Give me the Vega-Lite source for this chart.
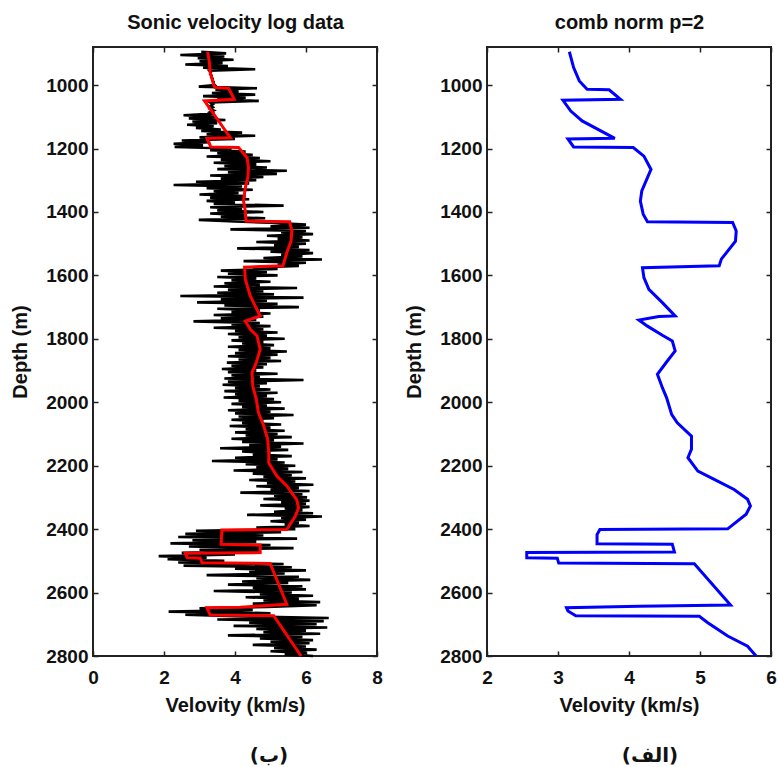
{
  "$schema": "https://vega.github.io/schema/vega-lite/v6.json",
  "background": "white",
  "padding": {"left": 9, "top": 11, "right": 3, "bottom": 3},
  "spacing": 19,
  "config": {
    "font": "Liberation Sans",
    "view": {"stroke": "#222222", "strokeWidth": 2},
    "axis": {
      "grid": false, "domain": false,
      "tickSize": -5, "tickWidth": 1.5, "tickColor": "#222222",
      "labelFont": "Liberation Sans", "labelFontSize": 19, "labelFontWeight": "bold", "labelColor": "#111111",
      "labelFlush": false, "labelOverlap": false,
      "titleFont": "Liberation Sans", "titleFontSize": 20, "titleFontWeight": "bold", "titleColor": "#111111"
    },
    "axisX": {"labelPadding": 17, "titlePadding": 8},
    "axisY": {"labelPadding": 10, "titlePadding": 15}
  },
  "datasets": {
    "log": [
      {"d":895,"v":3.05},{"d":900,"v":3.75},{"d":905,"v":2.46},{"d":910,"v":3.7},{"d":915,"v":2.95},{"d":920,"v":3.96},{"d":925,"v":3.0},{"d":930,"v":3.65},{"d":935,"v":2.6},{"d":940,"v":3.8},{"d":945,"v":3.1},{"d":950,"v":4.57},
      {"d":955,"v":3.28},{"d":960,"v":3.32},{"d":965,"v":3.3},{"d":970,"v":3.34},{"d":975,"v":3.33},{"d":980,"v":3.37},{"d":985,"v":3.36},{"d":990,"v":3.4},{"d":995,"v":3.39},{"d":1000,"v":3.43},
      {"d":1005,"v":2.98},{"d":1010,"v":4.62},{"d":1015,"v":3.45},{"d":1020,"v":4.1},{"d":1025,"v":3.35},{"d":1030,"v":4.57},{"d":1035,"v":3.1},{"d":1040,"v":4.3},{"d":1045,"v":3.5},{"d":1050,"v":4.67},
      {"d":1055,"v":3.3},{"d":1060,"v":3.38},{"d":1065,"v":3.32},{"d":1070,"v":3.38},{"d":1075,"v":3.3},{"d":1080,"v":3.4},{"d":1085,"v":3.3},{"d":1090,"v":3.42},
      {"d":1095,"v":2.55},{"d":1100,"v":3.45},{"d":1105,"v":2.7},{"d":1110,"v":3.73},{"d":1115,"v":2.8},{"d":1120,"v":3.5},{"d":1125,"v":2.65},{"d":1130,"v":3.4},{"d":1135,"v":2.9},{"d":1140,"v":3.6},
      {"d":1145,"v":3.05},{"d":1150,"v":4.2},{"d":1155,"v":3.2},{"d":1160,"v":4.57},{"d":1165,"v":3.0},{"d":1170,"v":4.0},
      {"d":1175,"v":2.5},{"d":1180,"v":3.3},{"d":1185,"v":2.27},{"d":1190,"v":3.1},{"d":1195,"v":2.3},{"d":1200,"v":3.9},
      {"d":1205,"v":3.3},{"d":1210,"v":4.3},{"d":1215,"v":3.5},{"d":1220,"v":4.5},{"d":1225,"v":3.2},{"d":1230,"v":4.7},{"d":1235,"v":3.6},{"d":1240,"v":5.0},{"d":1245,"v":3.4},{"d":1250,"v":4.6},
      {"d":1255,"v":3.7},{"d":1260,"v":4.9},{"d":1265,"v":3.5},{"d":1270,"v":5.46},{"d":1275,"v":3.8},{"d":1280,"v":5.18},{"d":1285,"v":3.3},{"d":1290,"v":4.8},{"d":1295,"v":3.6},{"d":1300,"v":4.6},
      {"d":1305,"v":2.9},{"d":1310,"v":4.4},{"d":1315,"v":2.27},{"d":1320,"v":4.2},{"d":1325,"v":3.2},{"d":1330,"v":4.5},{"d":1335,"v":3.4},{"d":1340,"v":4.1},{"d":1345,"v":3.0},{"d":1350,"v":4.3},
      {"d":1355,"v":3.3},{"d":1360,"v":4.4},{"d":1365,"v":3.2},{"d":1370,"v":4.0},{"d":1375,"v":3.4},{"d":1380,"v":5.37},{"d":1385,"v":3.3},{"d":1390,"v":4.2},{"d":1395,"v":3.5},{"d":1400,"v":4.8},
      {"d":1405,"v":3.3},{"d":1410,"v":4.3},{"d":1415,"v":3.6},{"d":1420,"v":4.85},{"d":1425,"v":2.98},{"d":1430,"v":4.0},
      {"d":1435,"v":5.2},{"d":1440,"v":6.0},{"d":1445,"v":5.0},{"d":1450,"v":6.1},{"d":1455,"v":3.87},{"d":1460,"v":6.0},{"d":1465,"v":5.3},{"d":1470,"v":6.2},{"d":1475,"v":4.9},{"d":1480,"v":5.9},
      {"d":1485,"v":5.2},{"d":1490,"v":6.1},{"d":1495,"v":4.6},{"d":1500,"v":6.0},{"d":1505,"v":5.1},{"d":1510,"v":5.8},{"d":1515,"v":4.06},{"d":1520,"v":6.1},{"d":1525,"v":5.0},{"d":1530,"v":6.2},
      {"d":1535,"v":5.3},{"d":1540,"v":5.9},{"d":1545,"v":4.8},{"d":1550,"v":6.45},{"d":1555,"v":4.24},{"d":1560,"v":6.0},{"d":1565,"v":5.2},{"d":1570,"v":5.8},{"d":1575,"v":4.5},
      {"d":1580,"v":5.2},{"d":1585,"v":3.6},{"d":1590,"v":4.9},{"d":1595,"v":3.8},{"d":1600,"v":5.2},{"d":1605,"v":3.5},{"d":1610,"v":4.6},{"d":1615,"v":3.9},{"d":1620,"v":5.0},{"d":1625,"v":3.7},
      {"d":1630,"v":4.7},{"d":1635,"v":3.4},{"d":1640,"v":5.75},{"d":1645,"v":3.8},{"d":1650,"v":4.8},{"d":1655,"v":3.5},{"d":1660,"v":5.1},{"d":1665,"v":2.46},{"d":1670,"v":5.93},{"d":1675,"v":3.6},
      {"d":1680,"v":4.9},{"d":1685,"v":2.93},{"d":1690,"v":5.2},{"d":1695,"v":3.7},{"d":1700,"v":5.8},{"d":1705,"v":3.5},{"d":1710,"v":4.7},{"d":1715,"v":3.9},{"d":1720,"v":5.0},{"d":1725,"v":3.4},
      {"d":1730,"v":4.8},{"d":1735,"v":3.6},{"d":1740,"v":4.6},{"d":1745,"v":2.83},
      {"d":1750,"v":4.7},{"d":1755,"v":3.9},{"d":1760,"v":5.0},{"d":1765,"v":3.4},{"d":1770,"v":4.8},{"d":1775,"v":4.0},{"d":1780,"v":5.2},{"d":1785,"v":3.8},{"d":1790,"v":4.9},{"d":1795,"v":4.1},
      {"d":1800,"v":5.4},{"d":1805,"v":3.9},{"d":1810,"v":4.8},{"d":1815,"v":4.2},{"d":1820,"v":5.1},{"d":1825,"v":3.8},{"d":1830,"v":5.0},{"d":1835,"v":4.1},
      {"d":1840,"v":5.46},{"d":1845,"v":4.0},{"d":1850,"v":5.2},{"d":1855,"v":3.8},{"d":1860,"v":5.0},{"d":1865,"v":4.1},{"d":1870,"v":5.3},{"d":1875,"v":3.77},{"d":1880,"v":4.9},{"d":1885,"v":3.9},
      {"d":1890,"v":4.8},{"d":1895,"v":3.63},{"d":1900,"v":4.6},{"d":1905,"v":3.8},{"d":1910,"v":5.2},{"d":1915,"v":3.9},{"d":1920,"v":4.7},{"d":1925,"v":3.7},{"d":1930,"v":5.93},{"d":1935,"v":3.8},
      {"d":1940,"v":4.9},{"d":1945,"v":3.65},{"d":1950,"v":4.7},{"d":1955,"v":4.0},
      {"d":1960,"v":5.0},{"d":1965,"v":3.7},{"d":1970,"v":5.2},{"d":1975,"v":4.0},{"d":1980,"v":4.9},{"d":1985,"v":3.68},{"d":1990,"v":5.1},{"d":1995,"v":4.1},{"d":2000,"v":5.3},{"d":2005,"v":3.9},
      {"d":2010,"v":4.9},{"d":2015,"v":4.2},{"d":2020,"v":5.4},{"d":2025,"v":3.8},{"d":2030,"v":5.0},{"d":2035,"v":4.0},{"d":2040,"v":5.65},{"d":2045,"v":4.1},{"d":2050,"v":5.1},{"d":2055,"v":3.9},
      {"d":2060,"v":4.8},{"d":2065,"v":4.2},{"d":2070,"v":5.3},{"d":2075,"v":3.85},{"d":2080,"v":5.0},{"d":2085,"v":4.3},
      {"d":2090,"v":5.4},{"d":2095,"v":4.0},{"d":2100,"v":5.2},{"d":2105,"v":4.3},{"d":2110,"v":5.6},{"d":2115,"v":3.9},{"d":2120,"v":5.1},{"d":2125,"v":4.2},{"d":2130,"v":5.93},{"d":2135,"v":4.4},
      {"d":2140,"v":5.3},{"d":2145,"v":3.58},{"d":2150,"v":5.5},{"d":2155,"v":4.2},{"d":2160,"v":5.0},{"d":2165,"v":4.5},{"d":2170,"v":5.6},{"d":2175,"v":4.0},{"d":2180,"v":5.2},{"d":2185,"v":3.35},{"d":2190,"v":5.4},
      {"d":2195,"v":4.3},{"d":2200,"v":5.7},{"d":2205,"v":4.6},{"d":2210,"v":5.5},{"d":2215,"v":3.96},{"d":2220,"v":5.9},{"d":2225,"v":4.5},{"d":2230,"v":5.6},{"d":2235,"v":4.8},{"d":2240,"v":6.0},
      {"d":2245,"v":4.4},{"d":2250,"v":5.7},{"d":2255,"v":4.9},{"d":2260,"v":6.21},{"d":2265,"v":4.6},{"d":2270,"v":5.8},{"d":2275,"v":5.0},{"d":2280,"v":6.1},{"d":2285,"v":4.15},{"d":2290,"v":5.9},
      {"d":2295,"v":5.1},{"d":2300,"v":6.03},{"d":2305,"v":4.8},{"d":2310,"v":6.1},
      {"d":2315,"v":5.3},{"d":2320,"v":6.0},{"d":2325,"v":4.71},{"d":2330,"v":6.1},{"d":2335,"v":5.4},{"d":2340,"v":5.9},{"d":2345,"v":5.1},{"d":2350,"v":6.2},{"d":2355,"v":4.34},{"d":2360,"v":6.45},
      {"d":2365,"v":5.3},{"d":2370,"v":6.0},{"d":2375,"v":5.0},{"d":2380,"v":5.8},{"d":2385,"v":5.4},{"d":2390,"v":6.1},{"d":2395,"v":4.6},{"d":2400,"v":5.7},
      {"d":2405,"v":2.9},{"d":2410,"v":5.3},{"d":2415,"v":2.6},{"d":2420,"v":4.8},{"d":2425,"v":2.4},{"d":2430,"v":5.75},{"d":2435,"v":2.8},{"d":2440,"v":4.6},{"d":2445,"v":2.18},{"d":2450,"v":5.0},
      {"d":2455,"v":2.7},{"d":2460,"v":5.65},{"d":2465,"v":3.0},{"d":2470,"v":4.7},{"d":2475,"v":2.5},
      {"d":2480,"v":4.0},{"d":2485,"v":1.85},{"d":2490,"v":3.2},{"d":2495,"v":2.1},{"d":2500,"v":3.7},{"d":2505,"v":2.4},{"d":2510,"v":5.37},
      {"d":2515,"v":2.55},{"d":2520,"v":5.6},{"d":2525,"v":4.0},{"d":2530,"v":6.0},{"d":2535,"v":4.4},{"d":2540,"v":5.4},{"d":2545,"v":3.2},{"d":2550,"v":5.8},{"d":2555,"v":4.6},{"d":2560,"v":6.12},
      {"d":2565,"v":4.2},{"d":2570,"v":5.5},{"d":2575,"v":3.8},{"d":2580,"v":5.9},{"d":2585,"v":4.5},{"d":2590,"v":6.0},{"d":2595,"v":3.4},{"d":2600,"v":5.6},{"d":2605,"v":4.7},{"d":2610,"v":6.2},
      {"d":2615,"v":4.3},{"d":2620,"v":5.8},{"d":2625,"v":4.8},{"d":2630,"v":6.4},{"d":2635,"v":4.5},{"d":2640,"v":6.3},{"d":2645,"v":4.9},
      {"d":2650,"v":3.0},{"d":2655,"v":4.5},{"d":2660,"v":2.13},{"d":2665,"v":5.0},{"d":2670,"v":2.6},{"d":2675,"v":4.2},
      {"d":2680,"v":6.64},{"d":2685,"v":3.5},{"d":2690,"v":6.5},{"d":2695,"v":4.4},{"d":2700,"v":6.3},{"d":2705,"v":3.96},{"d":2710,"v":6.6},{"d":2715,"v":4.6},{"d":2720,"v":6.0},{"d":2725,"v":4.8},
      {"d":2730,"v":6.4},{"d":2735,"v":3.8},{"d":2740,"v":5.9},{"d":2745,"v":4.7},{"d":2750,"v":6.2},{"d":2755,"v":5.0},{"d":2760,"v":6.1},{"d":2765,"v":4.5},{"d":2770,"v":6.0},{"d":2775,"v":5.1},
      {"d":2780,"v":6.3},{"d":2785,"v":5.0},{"d":2790,"v":6.0},{"d":2795,"v":5.4},{"d":2800,"v":6.2}
    ],
    "red": [
      {"d":895,"v":3.23},{"d":930,"v":3.28},{"d":960,"v":3.3},{"d":979,"v":3.35},{"d":1000,"v":3.4},{"d":1008,"v":3.44},{"d":1010,"v":3.82},{"d":1045,"v":3.98},{"d":1050,"v":3.14},
      {"d":1166,"v":3.87},{"d":1168,"v":3.21},{"d":1195,"v":3.32},{"d":1197,"v":4.1},{"d":1210,"v":4.2},{"d":1229,"v":4.34},{"d":1260,"v":4.38},{"d":1292,"v":4.36},{"d":1324,"v":4.29},
      {"d":1366,"v":4.24},{"d":1397,"v":4.29},{"d":1429,"v":4.31},{"d":1431,"v":5.54},{"d":1460,"v":5.6},{"d":1492,"v":5.58},{"d":1528,"v":5.46},{"d":1570,"v":5.35},{"d":1574,"v":4.27},
      {"d":1612,"v":4.29},{"d":1665,"v":4.43},{"d":1697,"v":4.57},{"d":1728,"v":4.71},{"d":1744,"v":4.29},{"d":1770,"v":4.43},{"d":1791,"v":4.62},{"d":1833,"v":4.71},{"d":1875,"v":4.6},
      {"d":1907,"v":4.48},{"d":1949,"v":4.5},{"d":1991,"v":4.6},{"d":2033,"v":4.66},{"d":2075,"v":4.81},{"d":2117,"v":4.92},{"d":2159,"v":4.95},{"d":2191,"v":4.95},{"d":2233,"v":5.18},
      {"d":2264,"v":5.46},{"d":2308,"v":5.74},{"d":2333,"v":5.79},{"d":2359,"v":5.7},{"d":2401,"v":5.46},{"d":2403,"v":3.63},{"d":2448,"v":3.61},{"d":2450,"v":4.71},{"d":2474,"v":4.71},
      {"d":2476,"v":2.6},{"d":2490,"v":2.65},{"d":2492,"v":3.02},{"d":2506,"v":3.07},{"d":2508,"v":4.99},{"d":2637,"v":5.46},{"d":2646,"v":4.15},{"d":2648,"v":3.21},{"d":2671,"v":3.3},
      {"d":2673,"v":5.09},{"d":2800,"v":5.86}
    ],
    "blue": [
      {"d":895,"v":3.16},{"d":945,"v":3.22},{"d":987,"v":3.3},{"d":1013,"v":3.41},{"d":1015,"v":3.72},{"d":1045,"v":3.88},{"d":1048,"v":3.07},{"d":1082,"v":3.18},{"d":1113,"v":3.34},
      {"d":1168,"v":3.8},{"d":1170,"v":3.14},{"d":1195,"v":3.22},{"d":1197,"v":4.06},{"d":1224,"v":4.21},{"d":1266,"v":4.31},{"d":1292,"v":4.26},{"d":1334,"v":4.18},{"d":1366,"v":4.16},
      {"d":1407,"v":4.2},{"d":1431,"v":4.26},{"d":1433,"v":5.46},{"d":1460,"v":5.51},{"d":1492,"v":5.5},{"d":1549,"v":5.3},{"d":1570,"v":5.27},{"d":1576,"v":4.19},{"d":1607,"v":4.21},
      {"d":1644,"v":4.28},{"d":1686,"v":4.47},{"d":1728,"v":4.65},{"d":1730,"v":4.42},{"d":1741,"v":4.14},{"d":1760,"v":4.26},{"d":1789,"v":4.47},{"d":1807,"v":4.61},{"d":1838,"v":4.65},
      {"d":1870,"v":4.54},{"d":1912,"v":4.4},{"d":1954,"v":4.47},{"d":1986,"v":4.53},{"d":2038,"v":4.6},{"d":2065,"v":4.68},{"d":2107,"v":4.88},{"d":2148,"v":4.88},{"d":2175,"v":4.83},
      {"d":2217,"v":4.97},{"d":2243,"v":5.2},{"d":2275,"v":5.48},{"d":2306,"v":5.67},{"d":2327,"v":5.71},{"d":2353,"v":5.65},{"d":2399,"v":5.39},{"d":2401,"v":3.59},{"d":2417,"v":3.55},
      {"d":2446,"v":3.55},{"d":2448,"v":4.61},{"d":2472,"v":4.64},{"d":2474,"v":2.56},{"d":2490,"v":2.56},{"d":2492,"v":2.99},{"d":2507,"v":3.01},{"d":2509,"v":4.92},{"d":2639,"v":5.43},
      {"d":2643,"v":4.14},{"d":2648,"v":3.12},{"d":2658,"v":3.14},{"d":2673,"v":3.25},{"d":2675,"v":4.99},{"d":2695,"v":5.11},{"d":2737,"v":5.39},{"d":2769,"v":5.67},{"d":2800,"v":5.79}
    ]
  },
  "hconcat": [
    {
      "width": 284, "height": 609,
      "title": {"text": "(ب)", "orient": "bottom", "anchor": "middle", "frame": "group", "dx": 34, "offset": 31, "font": "DejaVu Sans", "fontSize": 20, "fontWeight": "bold", "color": "#111111"},
      "layer": [
        {
          "data": {"name": "log"},
          "mark": {"type": "line", "color": "#000000", "strokeWidth": 2.6},
          "encoding": {
            "x": {"field": "v", "type": "quantitative", "scale": {"domain": [0, 8], "nice": false, "zero": false},
                  "axis": {"orient": "bottom", "values": [0, 2, 4, 6, 8], "title": "Velovity (km/s)"}},
            "y": {"field": "d", "type": "quantitative", "scale": {"domain": [880, 2800], "reverse": true, "nice": false, "zero": false},
                  "axis": {"orient": "left", "values": [1000, 1200, 1400, 1600, 1800, 2000, 2200, 2400, 2600, 2800], "format": "d", "title": "Depth (m)"}},
            "order": {"field": "d", "type": "quantitative"}
          }
        },
        {
          "data": {"name": "red"},
          "mark": {"type": "line", "color": "#ff0000", "strokeWidth": 3},
          "encoding": {
            "x": {"field": "v", "type": "quantitative",
                  "axis": {"orient": "top", "values": [0, 2, 4, 6, 8], "labels": false, "title": "Sonic velocity log data", "titlePadding": 14}},
            "y": {"field": "d", "type": "quantitative",
                  "axis": {"orient": "right", "values": [1000, 1200, 1400, 1600, 1800, 2000, 2200, 2400, 2600, 2800], "labels": false, "title": null}},
            "order": {"field": "d", "type": "quantitative"}
          }
        }
      ],
      "resolve": {"axis": {"x": "independent", "y": "independent"}}
    },
    {
      "width": 284, "height": 609,
      "title": {"text": "(الف)", "orient": "bottom", "anchor": "middle", "frame": "group", "dx": 21, "offset": 31, "font": "DejaVu Sans", "fontSize": 20, "fontWeight": "bold", "color": "#111111"},
      "layer": [
        {
          "data": {"name": "blue"},
          "mark": {"type": "line", "color": "#0000ff", "strokeWidth": 3},
          "encoding": {
            "x": {"field": "v", "type": "quantitative", "scale": {"domain": [2, 6], "nice": false, "zero": false},
                  "axis": {"orient": "bottom", "values": [2, 3, 4, 5, 6], "title": "Velovity (km/s)"}},
            "y": {"field": "d", "type": "quantitative", "scale": {"domain": [880, 2800], "reverse": true, "nice": false, "zero": false},
                  "axis": {"orient": "left", "values": [1000, 1200, 1400, 1600, 1800, 2000, 2200, 2400, 2600, 2800], "format": "d", "title": "Depth (m)"}},
            "order": {"field": "d", "type": "quantitative"}
          }
        },
        {
          "data": {"name": "blue"},
          "mark": {"type": "line", "color": "#0000ff", "strokeWidth": 3, "opacity": 0},
          "encoding": {
            "x": {"field": "v", "type": "quantitative",
                  "axis": {"orient": "top", "values": [2, 3, 4, 5, 6], "labels": false, "title": "comb norm p=2", "titlePadding": 14}},
            "y": {"field": "d", "type": "quantitative",
                  "axis": {"orient": "right", "values": [1000, 1200, 1400, 1600, 1800, 2000, 2200, 2400, 2600, 2800], "labels": false, "title": null}},
            "order": {"field": "d", "type": "quantitative"}
          }
        }
      ],
      "resolve": {"axis": {"x": "independent", "y": "independent"}}
    }
  ]
}
